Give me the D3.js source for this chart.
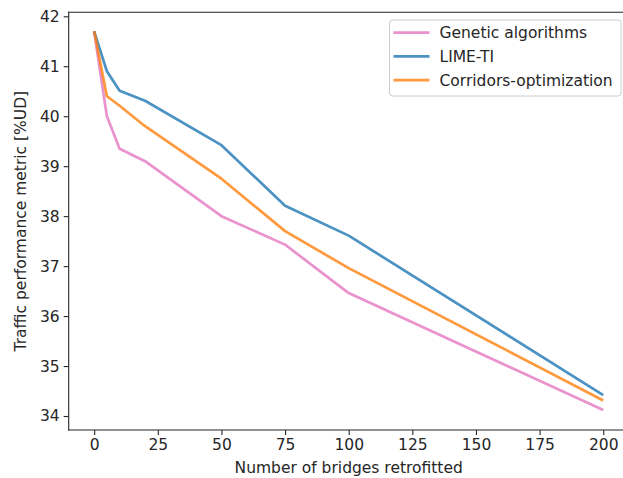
<!DOCTYPE html>
<html>
<head>
<meta charset="utf-8">
<script src="https://cdn.jsdelivr.net/npm/d3@7"></script>
<style>
  body { margin: 0; background: #fff; overflow: hidden; }
  svg { display: block; font-family: "DejaVu Sans", sans-serif; }
</style>
</head>
<body>
<div id="chart"></div>
<script>
// data
var bridges = [0, 5, 10, 20, 50, 75, 100, 200];
var genetic = [41.7, 40.0, 39.35, 39.1, 38.0, 37.43, 36.46, 34.12];
var limeTI = [41.7, 40.9, 40.51, 40.31, 39.42, 38.21, 37.61, 34.42];
var corridors = [41.7, 40.4, 40.21, 39.8, 38.75, 37.7, 36.96, 34.31];
var seriesNames = ['Genetic algorithms', 'LIME-TI', 'Corridors-optimization'];
var xTicks = [0, 25, 50, 75, 100, 125, 150, 175, 200];
var yTicks = [34, 35, 36, 37, 38, 39, 40, 41, 42];

var width = 623, height = 478;
var plotLeft = 68.7, plotRight = 628.7, plotTop = 12.3, plotBottom = 430;
var fontSize = 15.5;

var svg = d3.select('#chart')
  .append('svg')
  .attr('width', width)
  .attr('height', height);

var x = d3.scaleLinear().domain([-10, 210]).range([plotLeft, plotRight]);
var y = d3.scaleLinear().domain([33.72, 42.08]).range([plotBottom, plotTop]);

var colors = ['#e377c2', '#1f77b4', '#ff7f0e'];
var series = [genetic, limeTI, corridors];

var line = d3.line()
  .x(function(d, i) { return x(bridges[i]); })
  .y(function(d) { return y(d); });

svg.selectAll('path.series')
  .data(series)
  .enter()
  .append('path')
  .attr('class', 'series')
  .attr('d', line)
  .attr('fill', 'none')
  .attr('stroke', function(d, i) { return colors[i]; })
  .attr('stroke-opacity', 0.8)
  .attr('stroke-width', 2.7)
  .attr('stroke-linejoin', 'round');

// axes
var xAxis = svg.append('g')
  .attr('transform', 'translate(0,' + plotBottom + ')')
  .call(d3.axisBottom(x).tickValues(xTicks).tickSize(5).tickPadding(4).tickSizeOuter(0));
var yAxis = svg.append('g')
  .attr('transform', 'translate(' + plotLeft + ',0)')
  .call(d3.axisLeft(y).tickValues(yTicks).tickSize(5).tickPadding(4).tickSizeOuter(0));

[xAxis, yAxis].forEach(function(a) {
  a.selectAll('text').attr('font-size', fontSize).attr('fill', '#262626').attr('font-family', 'DejaVu Sans');
  a.selectAll('line').attr('stroke', '#262626').attr('stroke-width', 1.1);
  a.select('.domain').remove();
});

// spines (the right one falls outside the picture)
var spines = [
  [plotLeft, plotTop, plotLeft, plotBottom],
  [plotLeft, plotTop, plotRight, plotTop],
  [plotLeft, plotBottom, plotRight, plotBottom]
];
svg.selectAll('line.spine')
  .data(spines)
  .enter()
  .append('line')
  .attr('class', 'spine')
  .attr('x1', function(d) { return d[0]; })
  .attr('y1', function(d) { return d[1]; })
  .attr('x2', function(d) { return d[2]; })
  .attr('y2', function(d) { return d[3]; })
  .attr('stroke', '#262626')
  .attr('stroke-width', 1.1)
  .attr('stroke-linecap', 'square');

svg.append('text')
  .attr('x', (plotLeft + plotRight) / 2)
  .attr('y', 473)
  .attr('text-anchor', 'middle')
  .attr('font-size', fontSize)
  .attr('fill', '#262626')
  .text('Number of bridges retrofitted');

svg.append('text')
  .attr('transform', 'translate(26,' + (plotTop + plotBottom) / 2 + ') rotate(-90)')
  .attr('text-anchor', 'middle')
  .attr('font-size', fontSize)
  .attr('fill', '#262626')
  .text('Traffic performance metric [%UD]');

// legend
var legend = svg.append('g');
legend.append('rect')
  .attr('x', 389.5).attr('y', 20)
  .attr('width', 231.5).attr('height', 76)
  .attr('rx', 3)
  .attr('fill', '#fff')
  .attr('fill-opacity', 0.8)
  .attr('stroke', '#cccccc')
  .attr('stroke-width', 1);

var rows = legend.selectAll('g.row')
  .data(seriesNames)
  .enter()
  .append('g')
  .attr('class', 'row')
  .attr('transform', function(d, i) { return 'translate(0,' + (32.7 + i * 23.7) + ')'; });

rows.append('line')
  .attr('x1', 393.5).attr('x2', 429.5)
  .attr('stroke', function(d, i) { return colors[i]; })
  .attr('stroke-opacity', 0.8)
  .attr('stroke-width', 2.7);

rows.append('text')
  .attr('x', 439.5)
  .attr('dy', '0.35em')
  .attr('font-size', fontSize)
  .attr('fill', '#262626')
  .text(function(d) { return d; });
</script>
</body>
</html>
